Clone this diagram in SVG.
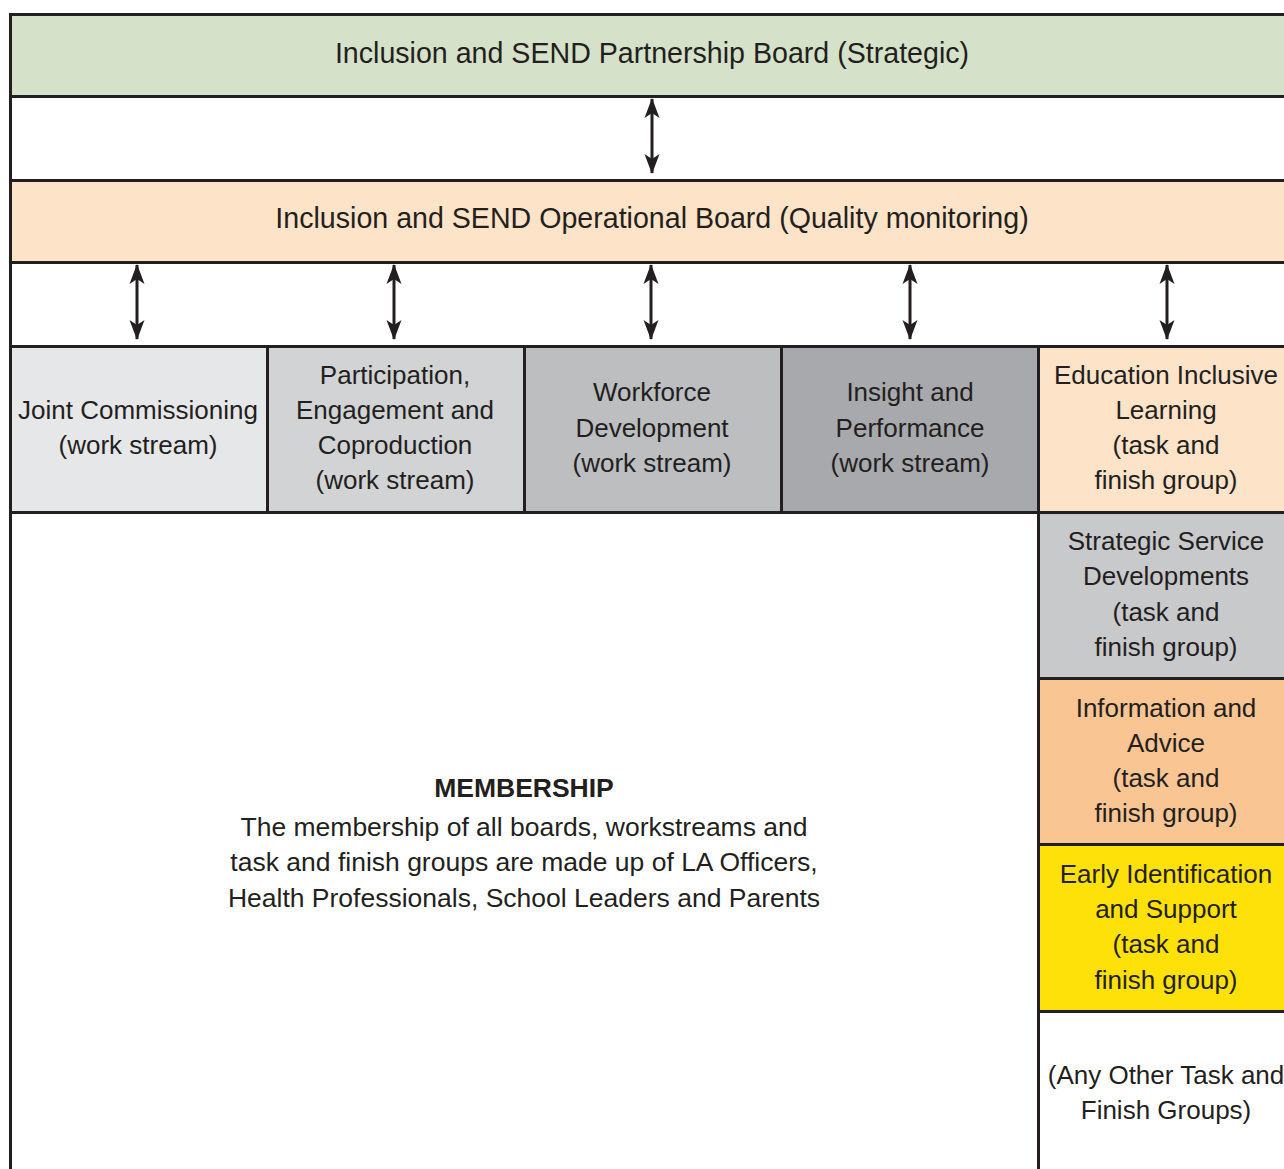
<svg xmlns="http://www.w3.org/2000/svg" width="1284" height="1169" viewBox="0 0 1284 1169">
<style>
.t{font-family:"Liberation Sans",Arial,sans-serif;font-size:26px;fill:#231f20;text-anchor:middle}
.h{font-size:28.6px}
.m{font-size:26.5px}
.b{font-weight:bold}
.ln{stroke:#231f20;stroke-width:3;fill:none}
.ar{stroke:#231f20;stroke-width:3;fill:none;marker-start:url(#ah);marker-end:url(#ah)}
</style>
<defs>
<marker id="ah" viewBox="0 0 20 16" refX="19" refY="8" markerWidth="20" markerHeight="16" markerUnits="userSpaceOnUse" orient="auto-start-reverse">
<path d="M0,0.5 L20,8 L0,15.5 L5,8 Z" fill="#231f20"/>
</marker>
</defs>
<rect width="1284" height="1169" fill="#ffffff"/>
<g id="partnership-board">
<rect x="10" y="14" width="1274" height="82" fill="#d5e2c9"/>
<text class="t h" x="652" y="63">Inclusion and SEND Partnership Board (Strategic)</text>
</g>
<g id="operational-board">
<rect x="10" y="180" width="1274" height="82" fill="#fde3c8"/>
<text class="t h" x="652" y="228">Inclusion and SEND Operational Board (Quality monitoring)</text>
</g>
<g id="joint-commissioning">
<rect x="10" y="346" width="257" height="166" fill="#e6e7e8"/>
<text class="t" x="138" y="419">Joint Commissioning</text>
<text class="t" x="138" y="454">(work stream)</text>
</g>
<g id="participation">
<rect x="267" y="346" width="257" height="166" fill="#d1d3d4"/>
<text class="t" x="395" y="384">Participation,</text>
<text class="t" x="395" y="419">Engagement and</text>
<text class="t" x="395" y="454">Coproduction</text>
<text class="t" x="395" y="489">(work stream)</text>
</g>
<g id="workforce">
<rect x="524" y="346" width="257" height="166" fill="#bcbec0"/>
<text class="t" x="652" y="401">Workforce</text>
<text class="t" x="652" y="437">Development</text>
<text class="t" x="652" y="472">(work stream)</text>
</g>
<g id="insight">
<rect x="781" y="346" width="257" height="166" fill="#a7a9ac"/>
<text class="t" x="910" y="401">Insight and</text>
<text class="t" x="910" y="437">Performance</text>
<text class="t" x="910" y="472">(work stream)</text>
</g>
<g id="education">
<rect x="1038" y="346" width="246" height="166" fill="#fde3c8"/>
<text class="t" x="1166" y="384">Education Inclusive</text>
<text class="t" x="1166" y="419">Learning</text>
<text class="t" x="1166" y="454">(task and</text>
<text class="t" x="1166" y="489">finish group)</text>
</g>
<g id="strategic-service">
<rect x="1038" y="512" width="246" height="166" fill="#c8c9cb"/>
<text class="t" x="1166" y="550">Strategic Service</text>
<text class="t" x="1166" y="585">Developments</text>
<text class="t" x="1166" y="621">(task and</text>
<text class="t" x="1166" y="656">finish group)</text>
</g>
<g id="information-advice">
<rect x="1038" y="678" width="246" height="166" fill="#f9c592"/>
<text class="t" x="1166" y="717">Information and</text>
<text class="t" x="1166" y="752">Advice</text>
<text class="t" x="1166" y="787">(task and</text>
<text class="t" x="1166" y="822">finish group)</text>
</g>
<g id="early-identification">
<rect x="1038" y="844" width="246" height="167" fill="#ffe10a"/>
<text class="t" x="1166" y="883">Early Identification</text>
<text class="t" x="1166" y="918">and Support</text>
<text class="t" x="1166" y="953">(task and</text>
<text class="t" x="1166" y="989">finish group)</text>
</g>
<g id="other-groups">
<text class="t" x="1166" y="1084">(Any Other Task and</text>
<text class="t" x="1166" y="1119">Finish Groups)</text>
</g>
<g id="membership">
<text class="t m b" x="524" y="797">MEMBERSHIP</text>
<text class="t m" x="524" y="836">The membership of all boards, workstreams and</text>
<text class="t m" x="524" y="871">task and finish groups are made up of LA Officers,</text>
<text class="t m" x="524" y="907">Health Professionals, School Leaders and Parents</text>
</g>
<g id="frame">
<path class="ln" d="M10.5,13 V1169"/>
<path class="ln" d="M9,14.5 H1284 M9,96.5 H1284 M9,180.5 H1284 M9,262.5 H1284 M9,346.5 H1284 M9,512.5 H1284 M1038,678.5 H1284 M1038,844.5 H1284 M1038,1011.5 H1284"/>
<path class="ln" d="M267.5,346 V512 M524.5,346 V512 M781.5,346 V512 M1038.5,346 V1169"/>
</g>
<g id="connectors">
<path class="ar" d="M652,99 V173"/>
<path class="ar" d="M137,265 V339"/>
<path class="ar" d="M394,265 V339"/>
<path class="ar" d="M651,265 V339"/>
<path class="ar" d="M910,265 V339"/>
<path class="ar" d="M1167,265 V339"/>
</g>
</svg>
